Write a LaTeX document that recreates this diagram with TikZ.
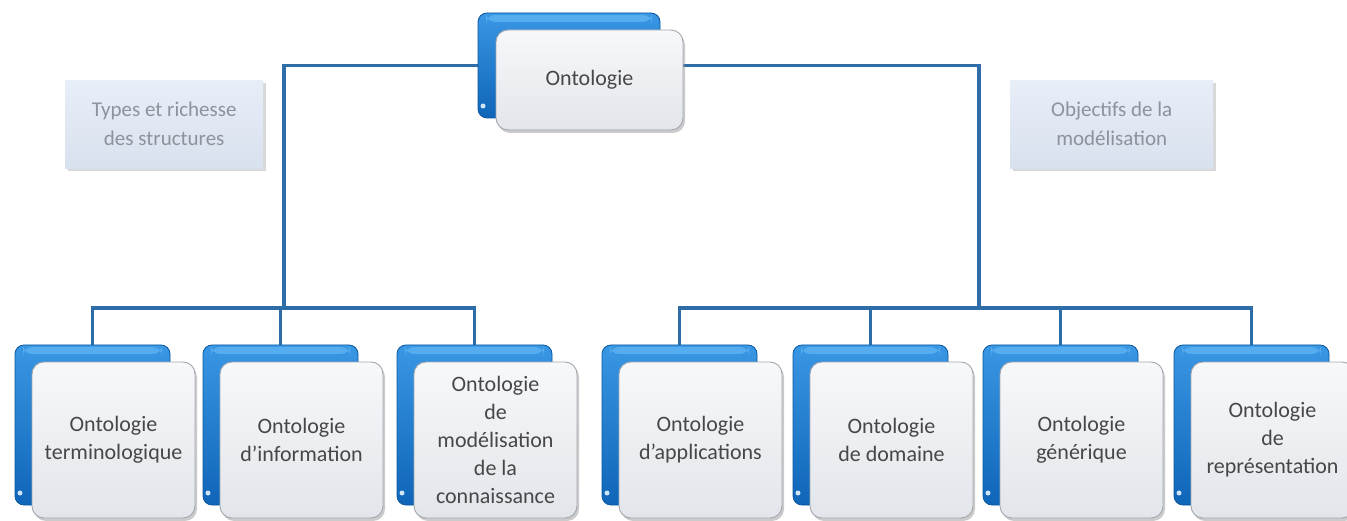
\documentclass[tikz,border=0pt]{standalone}
\usepackage{fontspec}
\setmainfont{Carlito}
\usetikzlibrary{shadows}
\pgfdeclarelayer{bg}
\pgfsetlayers{bg,main}

\definecolor{linkblue}{HTML}{2F6DA8}
\definecolor{backtop}{HTML}{3A97E4}
\definecolor{backbot}{HTML}{0F65B8}
\definecolor{backedge}{HTML}{0B569E}
\definecolor{backhi}{HTML}{55ACEE}
\definecolor{cardtop}{HTML}{F7F8FA}
\definecolor{cardbot}{HTML}{E2E5EA}
\definecolor{cardedge}{HTML}{A3A8AF}
\definecolor{cardtext}{HTML}{474747}
\definecolor{tagtop}{HTML}{E8EEF8}
\definecolor{tagbot}{HTML}{D8E1EE}
\definecolor{tagtext}{HTML}{8D939B}

\begin{document}
\begin{tikzpicture}[x=1pt,y=-1pt,
  link/.style={draw=linkblue, line width=3.2pt},
  backcard/.style={draw=backedge, line width=0.8pt, rounded corners=9pt,
    top color=backtop, bottom color=backbot, anchor=north west,
    inner sep=0pt, outer sep=0pt,
    path picture={
      \fill[backhi] ([xshift=8pt,yshift=-2pt]path picture bounding box.north west)
        rectangle ([xshift=-8pt,yshift=-9pt]path picture bounding box.north east);
      \fill[white!75!backtop] ([xshift=5pt,yshift=12pt]path picture bounding box.south west) circle (2.5pt);
    }},
  frontcard/.style={draw=cardedge, line width=0.9pt, rounded corners=12pt,
    top color=cardtop, bottom color=cardbot, anchor=north west,
    inner sep=0pt, outer sep=0pt, align=center, text=cardtext,
    font=\fontsize{22}{28}\selectfont,
    drop shadow={shadow xshift=2pt, shadow yshift=-3pt, fill=black!45, opacity=0.45}},
  tagbox/.style={anchor=north west, inner sep=0pt, top color=tagtop, bottom color=tagbot,
    align=center, text=tagtext, font=\fontsize{21}{29}\selectfont,
    drop shadow={shadow xshift=3pt, shadow yshift=-3pt, fill=black!30, opacity=0.5}}]

\useasboundingbox (0,0) rectangle (1347,521);

% root card
\node[backcard, minimum width=182pt, minimum height=105pt] (rootback) at (478,13) {};
\node[frontcard, minimum width=187pt, minimum height=100pt] (root) at (496,30) {Ontologie};

% side captions
\node[tagbox, minimum width=198pt, minimum height=88pt] (tagL) at (65,80) {Types et richesse\\des structures};
\node[tagbox, minimum width=203pt, minimum height=88pt] (tagR) at (1010,80) {Objectifs de la\\modélisation};

% leaf cards
\foreach \i/\x/\txt in {
  1/15/{Ontologie\\terminologique},
  2/203/{Ontologie\\d’information},
  3/397/{Ontologie\\de\\modélisation\\de la\\connaissance},
  4/602/{Ontologie\\d’applications},
  5/793/{Ontologie\\de domaine},
  6/983/{Ontologie\\générique},
  7/1174/{Ontologie\\de\\représentation}} {
  \node[backcard, minimum width=155pt, minimum height=160pt] (b\i) at (\x,345) {};
  \node[frontcard, minimum width=163pt, minimum height=156pt] (c\i) at (\x+17,362) {\txt};
}

% bus junctions
\coordinate (lbus) at (284,308);
\coordinate (rbus) at (979,308);

\begin{pgfonlayer}{bg}
  \fill[white] (0,0) rectangle (1347,521);
  \draw[link] (rootback.center) -| (lbus);
  \draw[link] (rootback.center) -| (rbus);
  \draw[link] (b1.north) |- (lbus) -| (b3.north);
  \draw[link] (b2.north) -- (b2.north |- lbus);
  \draw[link] (b4.north) |- (rbus) -| (b7.north);
  \draw[link] (b5.north) -- (b5.north |- rbus);
  \draw[link] (b6.north) -- (b6.north |- rbus);
\end{pgfonlayer}
\end{tikzpicture}
\end{document}
